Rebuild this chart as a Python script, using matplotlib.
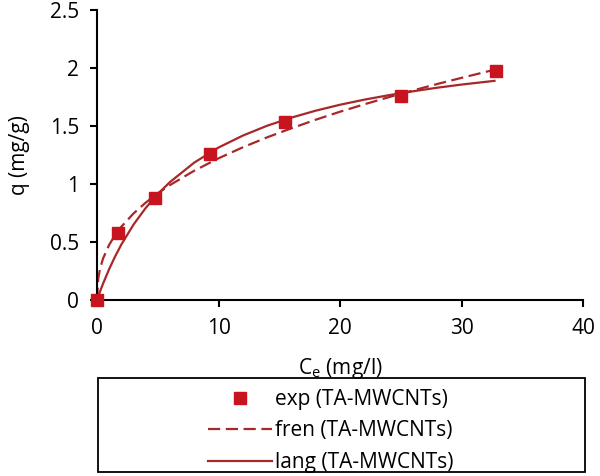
"""Adsorption isotherm of TA-MWCNTs: experimental points with Freundlich and Langmuir fits."""

import matplotlib

matplotlib.use("Agg")

import matplotlib.pyplot as plt
from matplotlib.patches import Rectangle

# experimental points
ce_exp = [0, 1.75, 4.75, 9.3, 15.5, 25.0, 32.8]
q_exp = [0, 0.575, 0.877, 1.256, 1.53, 1.76, 1.97]

# fitted curves
ce_fit = [0, 0.1, 0.25, 0.5, 1, 1.5, 2, 3, 4, 5, 6, 8, 10, 12, 14, 16, 18,
          20, 22, 24, 26, 28, 30, 32.7]
q_fren = [0, 0.185, 0.269, 0.358, 0.475, 0.561, 0.631, 0.745, 0.838, 0.919,
          0.990, 1.114, 1.221, 1.316, 1.402, 1.480, 1.554, 1.623, 1.687,
          1.748, 1.806, 1.862, 1.915, 1.985]
q_lang = [0, 0.029, 0.073, 0.141, 0.266, 0.377, 0.477, 0.649, 0.792, 0.913,
          1.016, 1.184, 1.314, 1.417, 1.502, 1.572, 1.632, 1.683, 1.727,
          1.765, 1.799, 1.830, 1.857, 1.889]

x_ticks = [0, 10, 20, 30, 40]
y_ticks = [0, 0.5, 1, 1.5, 2, 2.5]
y_tick_labels = ["0", "0.5", "1", "1.5", "2", "2.5"]

MARKER_RED = "#C8141E"
LINE_RED = "#A8282A"
FS = 15

plt.rcParams["font.family"] = ["Open Sans", "DejaVu Sans"]

fig = plt.figure(figsize=(6.0, 4.76), dpi=100)
ax = fig.add_axes([0.1617, 0.370, 0.8103, 0.609])

ax.plot(ce_fit, q_fren, color=LINE_RED, linewidth=1.6, dashes=(5.5, 2.5),
        label="fren (TA-MWCNTs)", zorder=2)
ax.plot(ce_fit, q_lang, color=LINE_RED, linewidth=1.6,
        label="lang (TA-MWCNTs)", zorder=2)
ax.plot(ce_exp, q_exp, linestyle="none", marker="s", markersize=9,
        color=MARKER_RED, label="exp (TA-MWCNTs)", zorder=3, clip_on=False)

ax.set_xlim(0, 40)
ax.set_ylim(0, 2.5)
ax.set_xticks(x_ticks)
ax.set_yticks(y_ticks)
ax.set_yticklabels(y_tick_labels)

for side in ("top", "right"):
    ax.spines[side].set_visible(False)
for side in ("left", "bottom"):
    ax.spines[side].set_linewidth(1.5)
    ax.spines[side].set_color("black")

ax.tick_params(axis="both", direction="out", length=5, width=1.5,
               labelsize=FS, color="black")
ax.tick_params(axis="x", pad=8)
ax.tick_params(axis="y", pad=8)

ax.set_xlabel(r"C$_\mathregular{e}$ (mg/l)", fontsize=FS, labelpad=12)
ax.set_ylabel("q (mg/g)", fontsize=FS, labelpad=14)

# legend box spanning below the axes
fig.patches.append(Rectangle((98 / 600, 1 - 472 / 476), 487 / 600, 94 / 476,
                             transform=fig.transFigure, fill=False,
                             edgecolor="black", linewidth=1.3))

handles, labels = ax.get_legend_handles_labels()
order = [2, 0, 1]
fig.legend([handles[i] for i in order], [labels[i] for i in order],
           loc="upper left", bbox_to_anchor=(208 / 600, 1 - 389 / 476),
           frameon=False, fontsize=FS, handlelength=3.07, handletextpad=0.15,
           labelspacing=0.5, borderpad=0, borderaxespad=0)

fig.savefig("out.png", dpi=100)
plt.close(fig)
